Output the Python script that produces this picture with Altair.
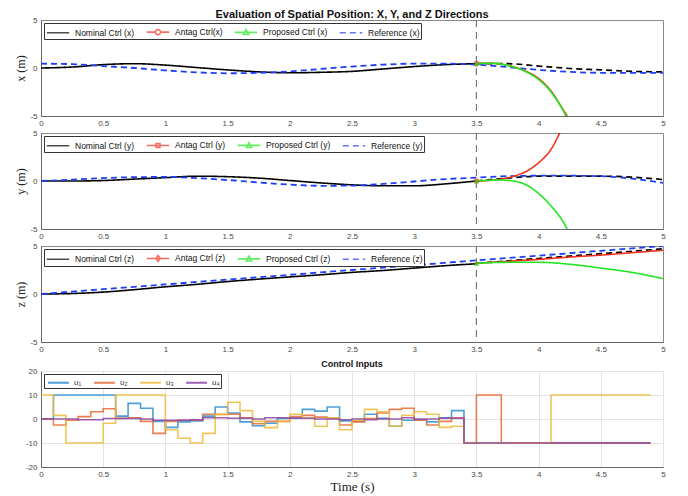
import altair as alt
import pandas as pd

# ---------------- data ----------------
T_NOM = [0.0, 0.25, 0.5, 0.75, 1.0, 1.25, 1.5, 1.75, 2.0, 2.25, 2.5, 2.75, 3.0, 3.25, 3.5]
T_TAIL = [3.5, 3.75, 4.0, 4.25, 4.5, 4.75, 5.0]
T_REF = T_NOM + T_TAIL[1:]
T_SWITCH = [3.5]

# x direction
NOM_X = [0.0, 0.1, 0.35, 0.45, 0.3, 0.05, -0.2, -0.4, -0.5, -0.45, -0.35, -0.1, 0.15, 0.35, 0.45]
TAIL_X = [0.45, 0.45, 0.2, -0.05, -0.2, -0.35, -0.4]
REF_X = [0.45, 0.4, 0.2, 0.0, -0.25, -0.45, -0.55, -0.5, -0.35, -0.1, 0.15, 0.35, 0.45, 0.45,
         0.35, 0.1, -0.2, -0.4, -0.5, -0.5, -0.5]
ANT_X_T = [3.5, 3.6, 3.7, 3.8, 3.9, 4.0, 4.1, 4.2, 4.23]
ANT_X = [0.45, 0.5, 0.4, 0.12, -0.35, -1.1, -2.4, -4.4, -5.0]
PRO_X_T = [3.5, 3.6, 3.7, 3.8, 3.9, 4.0, 4.1, 4.2, 4.22]
PRO_X = [0.45, 0.5, 0.4, 0.1, -0.4, -1.2, -2.5, -4.5, -5.0]

# y direction
NOM_Y = [0.0, 0.0, 0.05, 0.2, 0.35, 0.5, 0.45, 0.3, 0.05, -0.2, -0.4, -0.5, -0.5, -0.3, 0.0]
TAIL_Y = [0.0, 0.3, 0.5, 0.5, 0.5, 0.4, 0.15]
REF_Y = [0.0, 0.15, 0.3, 0.4, 0.42, 0.3, 0.1, -0.15, -0.38, -0.5, -0.48, -0.3, -0.05, 0.2,
         0.35, 0.5, 0.55, 0.55, 0.5, 0.25, -0.2]
ANT_Y_T = [3.5, 3.6, 3.7, 3.8, 3.9, 4.0, 4.1, 4.17]
ANT_Y = [0.0, 0.05, 0.2, 0.5, 1.0, 1.9, 3.3, 5.0]
PRO_Y_T = [3.5, 3.6, 3.7, 3.8, 3.9, 4.0, 4.1, 4.2, 4.23]
PRO_Y = [0.0, 0.08, 0.1, 0.0, -0.4, -1.3, -2.6, -4.3, -5.0]

# z direction
NOM_Z = [0.0, 0.05, 0.2, 0.45, 0.75, 1.0, 1.3, 1.55, 1.78, 2.0, 2.25, 2.45, 2.7, 2.95, 3.15]
TAIL_Z = [3.2, 3.45, 3.7, 3.95, 4.2, 4.45, 4.7]
REF_Z = [0.0, 0.25, 0.5, 0.75, 1.0, 1.25, 1.5, 1.75, 2.0, 2.25, 2.5, 2.75, 3.0, 3.25,
         3.5, 3.75, 4.0, 4.25, 4.5, 4.75, 5.0]
ANT_Z_T = T_TAIL
ANT_Z = [3.2, 3.4, 3.6, 3.85, 4.05, 4.3, 4.55]
PRO_Z_T = T_TAIL
PRO_Z = [3.2, 3.3, 3.3, 3.1, 2.7, 2.25, 1.6]

# control inputs: one value per 0.1 s step, t = 0.0 ... 4.9
T_U = [round(0.1 * k, 1) for k in range(50)]
U1 = [0, 10, 10, 10, 10, 10, 1.2, 6.5, 4.5, -1, -3.5, -1.2, -0.8, 1.2, 5, 2.5, -1.2, -2.8, -1.8, 0.2,
      0.5, 4, 3.3, 5, -0.8, -1, 2, 0.3, -3, -0.5, -0.3, -1.2, 0.5, 3.5,
      -10, -10, -10, -10, -10, -10, -10, -10, -10, -10, -10, -10, -10, -10, -10, -10]
U2 = [0, -2.5, -0.5, 1, 3, 4.3, 0.3, 0.5, -1, -6, -1, -0.5, -0.5, 2, 2, 2, 0.5, -2, -1, -1,
      1, 1.5, 0.8, 0.3, -2.5, -1.2, 0.2, 2.5, 4, 4.5, -0.5, -2.5, -1, 0.5,
      -10, 10, 10, -10, -10, -10, -10, -10, -10, -10, -10, -10, -10, -10, -10, -10]
U3 = [10, 1.5, -10, -10, -10, -1.8, 10, 10, 10, 10, -4.5, -8, -10, -6, 1.8, 7, 3.5, -1, -3.6, -1,
      2, 0.5, -3, 0.5, -4.5, -0.5, 4, 3, -3, 1.5, 3, 2, -3.5, -3,
      -10, -10, -10, -10, -10, -10, -10, 10, 10, 10, 10, 10, 10, 10, 10, 10]
U4 = [0, 0, 0, -0.3, -0.3, 0.2, 0.2, 0.2, 0, -0.5, -0.5, -0.5, -0.3, 0.5, 0.5, 0.3, 0.3, 0, 0.5, 0.5,
      0.3, 0.3, 0, 0, -0.3, 0, -0.3, 0, 0, 0.5, 0, 0, 0.3, 0.3,
      -10, -10, -10, -10, -10, -10, -10, -10, -10, -10, -10, -10, -10, -10, -10, -10]
U_NAMES = ["u\u2081", "u\u2082", "u\u2083", "u\u2084"]

X_TICKS = [0, 0.5, 1, 1.5, 2, 2.5, 3, 3.5, 4, 4.5, 5]

# ---------------- style ----------------
SANS = "Liberation Sans"
SERIF = "Liberation Serif"
BLACK, RED, GREEN, BLUE = "#000000", "#f2321e", "#22e622", "#1f3ff5"
U_COLORS = ["#2a8fd0", "#e46a35", "#f0bb3c", "#8e44a3"]

# legend glyphs: a long line segment (wider than the nominal symbol box) plus the marker
P_LINE = "M-1.6,0L1.6,0"
P_CIRCLE = "M-1.6,0L-0.36,0M0.36,0L1.6,0M-0.36,0A0.36,0.36 0 1,1 0.36,0A0.36,0.36 0 1,1 -0.36,0"
P_SQUARE = "M-1.6,0L1.6,0M-0.27,-0.27L0.27,-0.27L0.27,0.27L-0.27,0.27Z"
P_DIAMOND = "M-1.6,0L1.6,0M0,-0.42L0.32,0L0,0.42L-0.32,0Z"
P_TRI = "M-1.6,0L1.6,0M-0.38,0.3L0,-0.38L0.38,0.3Z"
P_ULINE = "M-1.6,0L1.6,0"

W = 622
H = 96


def x_enc(show_title=False):
    return alt.X("t:Q", scale=alt.Scale(domain=[0, 5], nice=False),
                 axis=alt.Axis(values=X_TICKS, labelExpr="'' + datum.value", labelFlush=False,
                               ticks=False, labelPadding=3, grid=False,
                               title="Time (s)" if show_title else None))


def legend():
    return alt.Legend(orient="top-left", direction="horizontal", columns=4, title=None,
                      labelFont=SANS, labelFontSize=8.5, labelColor="#111", labelOffset=9,
                      symbolSize=196, symbolOffset=5, symbolStrokeWidth=1.6, strokeColor="#333",
                      fillColor="white", padding=1, offset=3, columnPadding=8, rowPadding=0,
                      labelLimit=200)


def pos_panel(letter, names, nom, tail, ref, ant_t, ant, pro_t, pro, ant_path, ant_shape, ymin, ymax,
              height, title=None):
    y = alt.Y("v:Q", scale=alt.Scale(domain=[ymin, ymax], nice=False),
              axis=alt.Axis(values=[-5, 0, 5], labelExpr="'' + datum.value", ticks=False,
                            labelPadding=4, grid=False, title=f"{letter} (m)",
                            titleFont=SERIF, titleFontSize=12, titleFontWeight="normal",
                            titleColor="#222", titlePadding=2, minExtent=0))
    color = alt.Color("s:N", scale=alt.Scale(domain=names, range=[BLACK, RED, GREEN, BLUE]),
                      legend=legend())
    dash = alt.StrokeDash("s:N", scale=alt.Scale(domain=names, range=[[1, 0], [1, 0], [1, 0], [6, 4]]),
                          legend=legend())
    shape = alt.Shape("s:N", scale=alt.Scale(domain=names, range=[P_LINE, ant_path, P_TRI, P_LINE]),
                      legend=legend())

    def line(df, width=1.6):
        return alt.Chart(df).mark_line(strokeWidth=width, clip=True, interpolate="monotone").encode(
            x=x_enc(), y=y, color=color, strokeDash=dash)

    nom_df = pd.DataFrame({"t": T_NOM, "v": nom, "s": names[0]})
    ref_df = pd.DataFrame({"t": T_REF, "v": ref, "s": names[3]})
    ant_df = pd.DataFrame({"t": ant_t, "v": ant, "s": names[1]})
    pro_df = pd.DataFrame({"t": pro_t, "v": pro, "s": names[2]})
    tail_df = pd.DataFrame({"t": T_TAIL, "v": tail})
    leg_df = pd.DataFrame({"t": [0.0] * 4, "v": [0.0] * 4, "s": names})

    tail_line = alt.Chart(tail_df).mark_line(strokeWidth=1.7, color=BLACK, strokeDash=[6, 4],
                                             clip=True, interpolate="monotone").encode(x=x_enc(), y=y)
    vline = alt.Chart(pd.DataFrame({"t": T_SWITCH})).mark_rule(
        color="#6e6e6e", strokeWidth=1.1, strokeDash=[7, 5]).encode(x=x_enc())
    legend_pts = alt.Chart(leg_df).mark_point(filled=False, strokeWidth=1.6).encode(
        x=x_enc(), y=y, color=color, shape=shape).transform_filter("datum.t > 100")
    ant_mk = alt.Chart(ant_df.head(1)).mark_point(shape=ant_shape, color=RED, size=22,
                                                  filled=(ant_shape != "circle"), strokeWidth=1.2).encode(x=x_enc(), y=y)
    pro_mk = alt.Chart(pro_df.head(1)).mark_point(shape="triangle-up", color=GREEN, size=30,
                                                  filled=True).encode(x=x_enc(), y=y)

    ch = alt.layer(vline, line(nom_df), tail_line, line(ref_df, 1.8), line(ant_df), line(pro_df),
                   ant_mk, pro_mk, legend_pts).properties(width=W, height=height)
    if title is not None:
        ch = ch.properties(title=alt.TitleParams(title, font=SANS, fontSize=11, fontWeight="bold",
                                                 color="#111", offset=-4, anchor="middle"))
    return ch


p1 = pos_panel("x", ["Nominal Ctrl (x)", "Antag Ctrl(x)", "Proposed Ctrl (x)", "Reference (x)"],
               NOM_X, TAIL_X, REF_X, ANT_X_T, ANT_X, PRO_X_T, PRO_X, P_CIRCLE, "circle", -5, 5, H,
               title="Evaluation of Spatial Position: X, Y, and Z Directions")
p2 = pos_panel("y", ["Nominal Ctrl (y)", "Antag Ctrl (y)", "Proposed Ctrl (y)", "Reference (y)"],
               NOM_Y, TAIL_Y, REF_Y, ANT_Y_T, ANT_Y, PRO_Y_T, PRO_Y, P_SQUARE, "square", -5, 5, H)
p3 = pos_panel("z", ["Nominal Ctrl (z)", "Antag Ctrl (z)", "Proposed Ctrl (z)", "Reference (z)"],
               NOM_Z, TAIL_Z, REF_Z, ANT_Z_T, ANT_Z, PRO_Z_T, PRO_Z, P_DIAMOND, "diamond", -5, 5, H)

# control inputs panel
u_rows = []
for name, vals in zip(U_NAMES, [U1, U2, U3, U4]):
    for t, v in zip(T_U, vals):
        u_rows.append({"t": t, "v": v, "s": name})
u_df = pd.DataFrame(u_rows)

p4 = alt.Chart(u_df).mark_line(interpolate="step-after", strokeWidth=1.6, opacity=0.85).encode(
    x=alt.X("t:Q", scale=alt.Scale(domain=[0, 5], nice=False),
            axis=alt.Axis(values=X_TICKS, labelExpr="'' + datum.value", labelFlush=False, ticks=False,
                          labelPadding=3, grid=True, gridColor="#e3e3e3", title="Time (s)",
                          titleFont=SERIF, titleFontSize=13, titleFontWeight="normal",
                          titleColor="#222", titlePadding=2)),
    y=alt.Y("v:Q", scale=alt.Scale(domain=[-20, 20], nice=False),
            axis=alt.Axis(values=[-20, -10, 0, 10, 20], labelExpr="'' + datum.value", ticks=False,
                          labelPadding=4, grid=True, gridColor="#e3e3e3", title=None, minExtent=0)),
    color=alt.Color("s:N", scale=alt.Scale(domain=U_NAMES, range=U_COLORS),
                    legend=alt.Legend(orient="top-left", direction="horizontal", columns=4, title=None,
                                      labelFont=SANS, labelFontSize=8, labelColor="#333",
                                      symbolType=P_ULINE, symbolSize=169, symbolOffset=6,
                                      symbolStrokeWidth=2, strokeColor="#333", fillColor="white",
                                      padding=1, offset=3, columnPadding=8, labelOffset=8)),
    detail="s:N",
).properties(width=W, height=H,
             title=alt.TitleParams("Control Inputs", font=SANS, fontSize=9, fontWeight="bold",
                                   color="#111", offset=-2, anchor="middle"))

RES = dict(color="independent", strokeDash="independent", shape="independent",
           x="independent", y="independent")
LRES = dict(color="independent", strokeDash="independent", shape="independent")

upper = alt.vconcat(p1, p2, p3, spacing=0).resolve_scale(**RES).resolve_legend(**LRES)
chart = alt.vconcat(upper, p4, spacing=5).resolve_scale(**RES).resolve_legend(**LRES).properties(
    padding={"left": 6, "top": 0, "right": 5, "bottom": 0}
).configure_view(stroke="#8a8a8a", strokeWidth=1).configure_axis(
    labelFont=SANS, labelFontSize=8, labelColor="#4a4a4a", domainColor="#666666", domainWidth=1
)

chart.save("out.html", embed_options={"renderer": "svg", "actions": False})
